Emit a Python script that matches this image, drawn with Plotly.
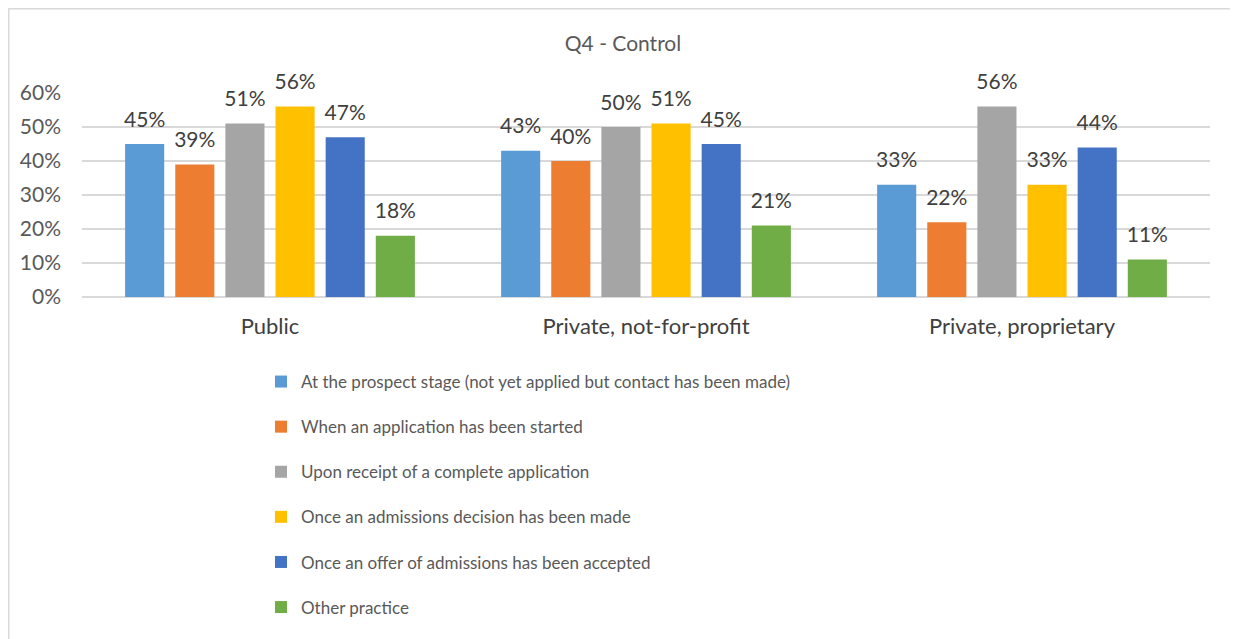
import plotly.graph_objects as go

categories = ["Public", "Private, not-for-profit", "Private, proprietary"]
series_names = [
    "At the prospect stage (not yet applied but contact has been made)",
    "When an application has been started",
    "Upon receipt of a complete application",
    "Once an admissions decision has been made",
    "Once an offer of admissions has been accepted",
    "Other practice",
]
prospect = [0.45, 0.43, 0.33]
started = [0.39, 0.40, 0.22]
complete = [0.51, 0.50, 0.56]
decision = [0.56, 0.51, 0.33]
accepted = [0.47, 0.45, 0.44]
other = [0.18, 0.21, 0.11]
colors = ["#5B9BD5", "#ED7D31", "#A5A5A5", "#FFC000", "#4472C4", "#70AD47"]

values = [prospect, started, complete, decision, accepted, other]

FONT = "Lato"
GAP = 0.2
fig = go.Figure()
for i, (name, vals, col) in enumerate(zip(series_names, values, colors)):
    fig.add_trace(go.Bar(
        x=categories, y=vals, name=name, marker_color=col,
        marker_line_width=0, offsetgroup=str(i), alignmentgroup="a",
        legendgroup=f"g{i}", hoverinfo="skip",
    ))
for i, vals in enumerate(values):
    fig.add_trace(go.Scatter(
        x=categories, y=vals, mode="markers+text", offsetgroup=str(i), alignmentgroup="a",
        marker=dict(size=18, opacity=0), text=[f"{round(v*100)}%" for v in vals],
        textposition="top center", textfont=dict(size=21, color="#404040", family=FONT),
        cliponaxis=False, showlegend=False, hoverinfo="skip",
    ))

OFF = 8  # page body margin
W, H = 1238 - OFF, 639 - OFF
L, R, T, B = 82 - OFF, 28, 93 - OFF, 342
pw, ph = W - L - R, H - T - B

def px(x):
    return (x - OFF - L) / pw

def py(y):
    return (H - B - (y - OFF)) / ph

border = dict(color="#D9D9D9", width=1.5)
fig.update_layout(
    width=W, height=H,
    margin=dict(l=L, r=R, t=T, b=B, autoexpand=False),
    paper_bgcolor="white", plot_bgcolor="white",
    barmode="group", bargap=GAP, bargroupgap=0.22,
    scattermode="group", scattergap=GAP,
    font=dict(family=FONT, color="#595959", size=18),
    title=dict(text="Q4 - Control", x=0.5, xanchor="center", y=1 - (44 - OFF) / H, yanchor="middle",
               font=dict(size=21, color="#595959", family=FONT)),
    xaxis=dict(showline=False, ticks="", ticklabelstandoff=14,
               tickfont=dict(size=22, color="#404040")),
    yaxis=dict(range=[0, 0.6], tickformat=".0%", dtick=0.1, showgrid=True,
               gridcolor="#D9D9D9", gridwidth=1.5, zeroline=True, zerolinecolor="#D9D9D9",
               zerolinewidth=1.5, showline=False, ticks="", ticklabelstandoff=20,
               tickfont=dict(size=21, color="#595959")),
    legend=dict(orientation="v", x=px(261), xanchor="left", y=py(364), yanchor="top",
                font=dict(size=17, color="#595959", family=FONT), tracegroupgap=20,
                itemwidth=30),
    shapes=[
        dict(type="line", xref="paper", yref="paper",
             x0=px(8), x1=px(1238), y0=py(8.75), y1=py(8.75), line=border, layer="below"),
        dict(type="line", xref="paper", yref="paper",
             x0=px(8.75), x1=px(8.75), y0=py(8), y1=py(639), line=border, layer="below"),
    ],
)

fig.write_html("out.html")
